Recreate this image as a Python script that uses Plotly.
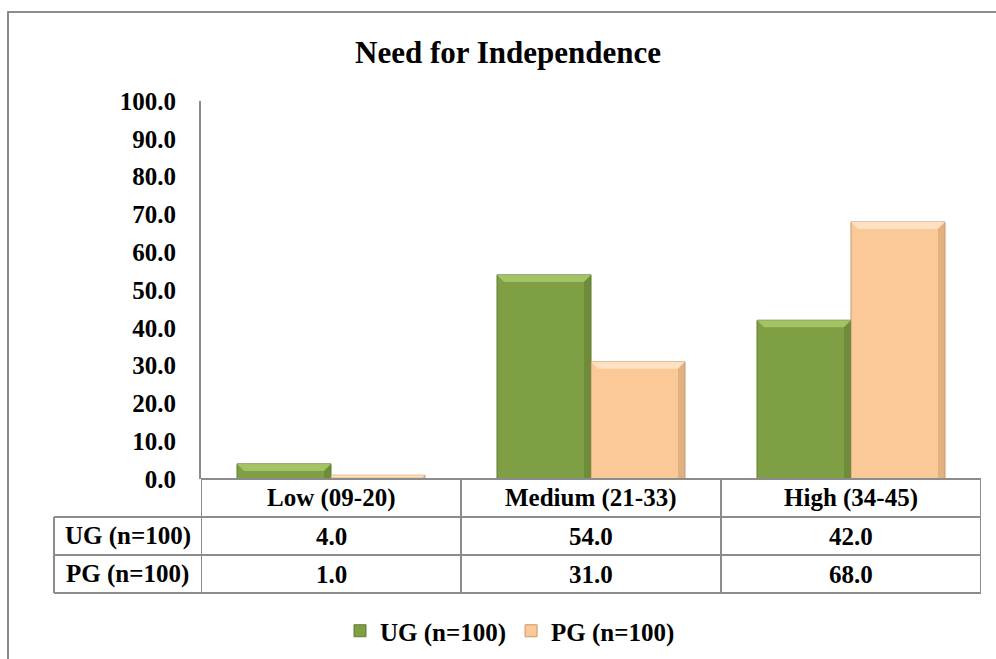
import plotly.graph_objects as go

# Data
categories = ["Low (09-20)", "Medium (21-33)", "High (34-45)"]
series_names = ["UG (n=100)", "PG (n=100)"]
ug_values = [4.0, 54.0, 42.0]
pg_values = [1.0, 31.0, 68.0]
y_ticks = [0, 10, 20, 30, 40, 50, 60, 70, 80, 90, 100]

FONT = "Liberation Serif, Times New Roman, serif"
TXT = 25
GREEN = "#7f9f45"
GREEN_LIGHT = "#a7c768"
GREEN_DARK = "#5f7a30"
ORANGE = "#fbc897"
ORANGE_LIGHT = "#fde3c6"
ORANGE_DARK = "#c9996b"
GRID = "#8c8c8c"

BARGAP = 0.277
bar_w = (1 - BARGAP) / 2
xs = list(range(len(categories)))

fig = go.Figure()
series = [
    (series_names[0], ug_values, GREEN, GREEN_LIGHT, GREEN_DARK, -bar_w / 2),
    (series_names[1], pg_values, ORANGE, ORANGE_LIGHT, ORANGE_DARK, bar_w / 2),
]
for name, vals, col, light, dark, off in series:
    fig.add_trace(go.Bar(
        x=xs, y=vals, name=f"<b>{name}</b>",
        marker=dict(color=col, line=dict(color=dark, width=1)),
    ))

# Bevel highlights on the bars (top band lighter, right edge darker)
shapes = []
px_per_unit = 378 / 100.0
for name, vals, col, light, dark, off in series:
    for i, v in enumerate(vals):
        xl = i + off - bar_w / 2
        xr = i + off + bar_w / 2
        band = min(7 / px_per_unit, v / 2)
        inset = band * px_per_unit / 260.0
        shapes.append(dict(
            type="path", xref="x", yref="y", layer="above",
            path=f"M {xl} {v} L {xr} {v} L {xr - inset} {v - band} L {xl + inset} {v - band} Z",
            fillcolor=light, line=dict(width=0), opacity=0.9,
        ))
        shapes.append(dict(
            type="path", xref="x", yref="y", layer="above",
            path=f"M {xr} {v} L {xr} 0 L {xr - inset} 0 L {xr - inset} {v - band} Z",
            fillcolor=dark, line=dict(width=0), opacity=0.5,
        ))

# Data table below the plot (paper coordinates)
plot_left, plot_right, plot_top, plot_bottom = 201, 981, 101, 479
plot_w = plot_right - plot_left
plot_h = plot_bottom - plot_top


def px_to_py(py):
    return (plot_bottom - py) / plot_h


def px_to_px(px):
    return (px - plot_left) / plot_w


row_h = 38
rows_y = [plot_bottom + k * row_h for k in range(4)]
table_left = px_to_px(54)
line = dict(color=GRID, width=2)

# horizontal lines
for k, yy in enumerate(rows_y):
    x0 = 0 if k == 0 else table_left
    shapes.append(dict(type="line", xref="paper", yref="paper",
                       x0=x0, x1=1, y0=px_to_py(yy), y1=px_to_py(yy), line=line))
# vertical lines at category boundaries
for b in range(len(categories) + 1):
    shapes.append(dict(type="line", xref="x", yref="paper",
                       x0=b - 0.5, x1=b - 0.5, y0=px_to_py(rows_y[0]), y1=px_to_py(rows_y[3]),
                       line=line))
shapes.append(dict(type="line", xref="paper", yref="paper",
                   x0=table_left, x1=table_left, y0=px_to_py(rows_y[1]), y1=px_to_py(rows_y[3]),
                   line=line))

# outer chart border
shapes.append(dict(type="rect", xref="paper", yref="paper",
                   x0=px_to_px(8), x1=px_to_px(1010), y0=px_to_py(680), y1=px_to_py(12),
                   line=dict(color=GRID, width=2), fillcolor="rgba(0,0,0,0)"))

annotations = []
tfont = dict(family=FONT, size=TXT, color="black")
for i, cat in enumerate(categories):
    annotations.append(dict(x=i, y=px_to_py(rows_y[0] + row_h / 2), xref="x", yref="paper",
                            text=f"<b>{cat}</b>", showarrow=False, font=tfont,
                            xanchor="center", yanchor="middle"))
for r, (name, vals) in enumerate([(series_names[0], ug_values), (series_names[1], pg_values)]):
    yc = px_to_py(rows_y[r + 1] + row_h / 2)
    annotations.append(dict(x=(table_left + 0) / 2, y=yc, xref="paper", yref="paper",
                            text=f"<b>{name}</b>", showarrow=False, font=tfont,
                            xanchor="center", yanchor="middle"))
    for i, v in enumerate(vals):
        annotations.append(dict(x=i, y=yc, xref="x", yref="paper",
                                text=f"<b>{v:.1f}</b>", showarrow=False, font=tfont,
                                xanchor="center", yanchor="middle"))

fig.update_layout(
    width=996, height=659,
    margin=dict(l=plot_left, r=996 - plot_right, t=plot_top, b=659 - plot_bottom),
    paper_bgcolor="white", plot_bgcolor="white",
    barmode="group", bargap=BARGAP, bargroupgap=0,
    title=dict(text="<b>Need for Independence</b>", x=508 / 996, xref="container",
               y=1 - 52 / 659, yref="container", xanchor="center", yanchor="middle",
               font=dict(family=FONT, size=31, color="black")),
    xaxis=dict(range=[-0.5, 2.5], showticklabels=False, showgrid=False,
               zeroline=False, showline=False, fixedrange=True),
    yaxis=dict(range=[0, 100], tickvals=y_ticks, ticktext=[f"<b>{t:.1f}</b>" for t in y_ticks],
               showgrid=False, zeroline=False, showline=True, linecolor=GRID, linewidth=2,
               ticks="", ticklabelstandoff=18,
               tickfont=dict(family=FONT, size=TXT, color="black")),
    legend=dict(orientation="h", xref="container", yref="container",
                x=510 / 996, y=1 - 631 / 659, xanchor="center", yanchor="middle",
                font=dict(family=FONT, size=TXT, color="black"),
                itemwidth=30, traceorder="normal"),
    shapes=shapes, annotations=annotations,
    showlegend=True,
)

fig.write_html("out.html")
